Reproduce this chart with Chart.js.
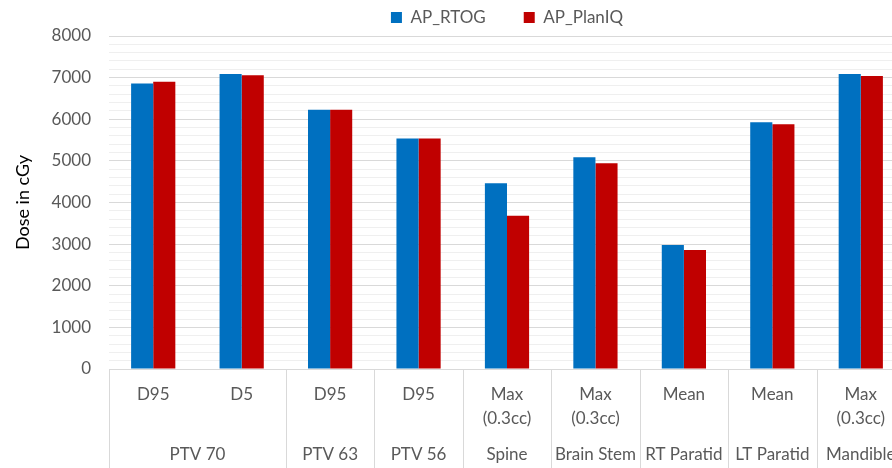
<!DOCTYPE html>
<html>
<head>
<meta charset="utf-8">
<script src="https://cdn.jsdelivr.net/npm/chart.js@4.4.0/dist/chart.umd.min.js"></script>
<style>
    html, body { margin: 0; padding: 0; background: #ffffff; overflow: hidden; }
    #frame { width: 892px; height: 468px; overflow: hidden; }
</style>
</head>
<body>
<div id="frame">
    <canvas id="dose_chart" width="910" height="468"></canvas>
</div>
<script>
// Values
var sub_labels = ["D95", "D5", "D95", "D95", ["Max", "(0.3cc)"], ["Max", "(0.3cc)"], "Mean", "Mean", ["Max", "(0.3cc)"]];
var group_names = ["PTV 70", "PTV 63", "PTV 56", "Spine", "Brain Stem", "RT Paratid", "LT Paratid", "Mandible"];
var group_sizes = [2, 1, 1, 1, 1, 1, 1, 1];
var ap_rtog = [6860, 7090, 6230, 5540, 4460, 5090, 2980, 5930, 7090];
var ap_planiq = [6900, 7060, 6230, 5540, 3680, 4940, 2860, 5880, 7040];
var y_ticks = [0, 1000, 2000, 3000, 4000, 5000, 6000, 7000, 8000];

var font_name = "Lato";
var label_color = "#595959";

// Draws the outer category row (organ names) and the separators under the axis
var group_axis_plugin = {
    "id": "group_axis",
    "afterDraw": function (chart) {
        var ctx = chart.ctx;
        var x_scale = chart.scales.x;
        var area = chart.chartArea;
        var half = (x_scale.getPixelForValue(1) - x_scale.getPixelForValue(0)) / 2;
        var index = 0;

        ctx.save();
        ctx.strokeStyle = "#d9d9d9";
        ctx.lineWidth = 1;
        ctx.fillStyle = label_color;
        ctx.font = "17px " + font_name;
        ctx.textAlign = "center";
        ctx.textBaseline = "middle";

        for (var i = 0; i < group_names.length; i++) {
            var first = x_scale.getPixelForValue(index);
            var last = x_scale.getPixelForValue(index + group_sizes[i] - 1);
            var left = Math.round(first - half) + 0.5;

            ctx.beginPath();
            ctx.moveTo(left, area.bottom);
            ctx.lineTo(left, chart.height);
            ctx.stroke();

            ctx.fillText(group_names[i], (first + last) / 2, 455);

            index += group_sizes[i];
        }

        ctx.restore();
    }
};

new Chart(document.getElementById("dose_chart").getContext("2d"), {
    "type": "bar",
    "data": {
        "labels": sub_labels,
        "datasets": [
            {
                "label": "AP_RTOG",
                "data": ap_rtog,
                "backgroundColor": "#0070c0",
                "categoryPercentage": 0.5,
                "barPercentage": 1.0
            },
            {
                "label": "AP_PlanIQ",
                "data": ap_planiq,
                "backgroundColor": "#c00000",
                "categoryPercentage": 0.5,
                "barPercentage": 1.0
            }
        ]
    },
    "options": {
        "responsive": false,
        "animation": false,
        // Legend padding is large to space the two items apart, so the top is pulled up
        "layout": {
            "padding": {"left": 0, "right": 5, "top": -29, "bottom": 0}
        },
        "plugins": {
            "legend": {
                "position": "top",
                "fullSize": false,
                "labels": {
                    "boxWidth": 11,
                    "boxHeight": 11,
                    "padding": 38,
                    "color": label_color,
                    "font": {"family": font_name, "size": 17}
                }
            },
            "tooltip": {"enabled": false}
        },
        "scales": {
            "x": {
                "afterFit": function (scale) {
                    scale.height = 99;
                },
                "grid": {"display": false, "drawTicks": false},
                "border": {"display": true, "color": "#d9d9d9"},
                "ticks": {
                    "color": label_color,
                    "padding": 14,
                    "maxRotation": 0,
                    "autoSkip": false,
                    "font": {"family": font_name, "size": 17, "lineHeight": 1.41}
                }
            },
            "y": {
                "min": 0,
                "max": 8000,
                "afterFit": function (scale) {
                    scale.width = 109;
                },
                "grid": {
                    "drawTicks": false,
                    "color": function (context) {
                        return y_ticks.indexOf(context.tick.value) >= 0 ? "#d9d9d9" : "#efefef";
                    }
                },
                "border": {"display": false},
                "ticks": {
                    "stepSize": 200,
                    "maxTicksLimit": 60,
                    "autoSkip": false,
                    "padding": 18,
                    "color": label_color,
                    "font": {"family": font_name, "size": 17},
                    "callback": function (value) {
                        return y_ticks.indexOf(value) >= 0 ? String(value) : "";
                    }
                },
                "title": {
                    "display": true,
                    "text": "Dose in cGy",
                    "color": "#000000",
                    "padding": {"top": 12, "bottom": 0},
                    "font": {"family": font_name, "size": 18}
                }
            }
        }
    },
    "plugins": [group_axis_plugin]
});
</script>
</body>
</html>
